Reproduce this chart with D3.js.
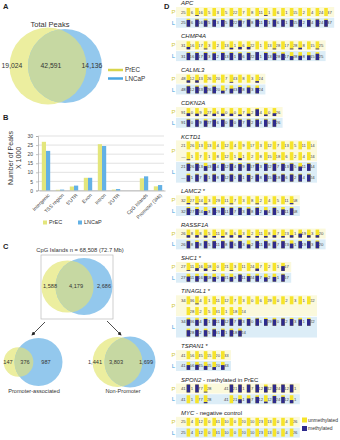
<!DOCTYPE html>
<html>
<head>
<meta charset="utf-8">
<script src="https://cdn.jsdelivr.net/npm/d3@7"></script>
<style>
  body { margin: 0; background: #fff; }
  svg { display: block; font-family: "Liberation Sans", Arial, sans-serif; }
</style>
</head>
<body>
<div id="fig"></div>
<script>
// ---- A: total peaks (PrEC only, shared, LNCaP only)
const totalPeaks = [19024, 42591, 14136];
const lines = ["PrEC", "LNCaP"];

// ---- B: peaks per genomic region (x 1000)
const regions = ["Intergenic", "TSS region", "5'UTR", "Exon", "Intron", "3'UTR", "", "CpG Islands", "Promoter (3kb)"];
const precPeaks = [26.8, 0.4, 2.2, 7.0, 25.5, 0.5, 0, 6.7, 2.3];
const lncapPeaks = [21.8, 0.5, 2.7, 7.0, 24.5, 0.8, 0, 7.8, 3.0];
const peakTicks = [0, 5, 10, 15, 20, 25, 30];

// ---- C: CpG islands
const cpgAll = [1588, 4179, 2686];
const cpgPromoter = [147, 376, 987];
const cpgNonPromoter = [1441, 3803, 1699];

// ---- D: bisulfite sequencing, site spacing + methylated fraction per CpG
const apcSites = [25, 6, 16, 5, 3, 5, 22, 7, 8, 11, 1, 6, 1, 15, 2, 4, 24, 37];
const apcP = [0, 0.1, 0, 0, 0, 0, 0, 0, 0, 0.1, 0, 0, 0, 0, 0, 0, 0];
const apcL = [0.85, 0.9, 0.8, 0.9, 0.85, 0.9, 0.8, 0.9, 0.9, 0.85, 0.9, 0.9, 0.85, 0.9, 0.85, 0.9, 0.85];

const chmpSites = [31, 16, 17, 3, 2, 13, 1, 6, 22, 1, 13, 28, 17, 28, 8, 15, 25];
const chmpP = [0.3, 0, 0.1, 0, 0, 0.2, 0.3, 0.3, 0, 0, 0.1, 0, 0.1, 0.2, 0, 0.1];
const chmpL = [0.9, 0.9, 0.9, 0.85, 0.9, 0.9, 0.85, 0.9, 1, 0.9, 0.85, 0.8, 0.5, 0.55, 0.6, 0.8];

const calmlSites = [48, 12, 43, 26, 20, 7, 43, 8, 3, 24];
const calmlP = [0.3, 0.3, 0, 0, 0, 0.1, 0, 0, 0.2];
const calmlL = [0.9, 0.85, 0.85, 0.85, 0.35, 0.6, 0.8, 0.75, 0.7];

const cdknSites = [91, 0, 9, 27, 6, 0, 0, 7, 2, 4, 0, 26];
const cdknP = [0.35, 0.3, 0.2, 0.3, 0.3, 0.3, 0.2, 0.3, 0.85, 0.2, 0.35];
const cdknL = [0.9, 0.9, 0.8, 0.9, 0.9, 0.9, 0.9, 0.9, 0.9, 0.9, 0.9];

const kctdSites1 = [21, 26, 13, 13, 4, 12, 4, 9, 17, 3, 12, 7, 13, 5, 11, 14];
const kctdP1 = [0, 0, 0, 0, 0, 0, 0, 0, 0, 0, 0, 0, 0, 0, 0];
const kctdL1 = [0.9, 0.9, 0.6, 0.9, 0.9, 0.9, 0.85, 0.9, 0.9, 0.9, 0.9, 0.9, 0.9, 0.55, 0.9];
const kctdSites2 = ["—", 1, 7, 1, 8, 12, 1, 1, 2, 8, 15, 18, 6, 2, 4, 24];
const kctdP2 = [0.1, 0, 0, 0, 0, 0, 0.25, 0, 0, 0, 0, 0, 0, 0, 0];
const kctdL2 = [0.8, 0.9, 0.9, 0.9, 0.9, 0.9, 0.9, 0.85, 0.9, 0.9, 0.9, 0.9, 0.9, 0.9, 0.9];

const lamcSites = [32, 27, 24, 3, 29, 11, 7, 3, 8, 2, 4, 5, 11, 58];
const lamcP = [0.15, 0.1, 0.1, 0, 0, 0.1, 0, 0, 0.1, 0, 0, 0, 0.15];
const lamcL = [0.85, 0.75, 0.5, 0.9, 0.9, 0.9, 0.9, 0.8, 0.9, 0.6, 0.9, 0.7, 0.85];

const rassfSites = [26, 8, 8, 5, 11, 8, 6, 3, 2, 11, 8, 7, 23, 1, 19, 3, 20];
const rassfP = [0.3, 0.3, 0.25, 0.2, 0.2, 0.3, 0.3, 0.2, 0.2, 0.2, 0.3, 0.2, 0.3, 0.5, 0.3, 0.3];
const rassfL = [0.9, 0.8, 0.9, 0.9, 0.9, 0.85, 0.9, 0.5, 0.9, 0.9, 0.85, 0.9, 0.6, 0.9, 0.9, 0.85];

const shcSites = [27, 11, 16, 18, 0, 21, 3, 11, 24, 7, 2, 1, 67];
const shcP = [0.1, 0.35, 0.3, 0.1, 0, 0.1, 0, 0, 0.3, 0, 0, 0.6];
const shcL = [0.65, 0.7, 0.7, 0.6, 0.65, 0.6, 0.9, 0.7, 0.75, 0.55, 0.6, 0.9];

const tinaSites1 = [34, 36, 4, 1, 11, 12, 7, 3, 0, 6, 29, 0, 2, 3, 1, 22];
const tinaP1 = [0, 0.1, 0, 0, 0, 0, 0, 0, 0, 0, 0, 0, 0, 0, 0];
const tinaL1 = [0.8, 0.75, 0.85, 0.8, 0.8, 0.9, 0.8, 0.85, 0.9, 0.85, 0.8, 0.9, 0.85, 0.8, 0.85];
const tinaSites2 = ["", 28, 2, 5, 31, 1, 18, 24];
const tinaP2 = [0, 0, 0, 0, 0, 0, 0];
const tinaL2 = [0.8, 0.85, 0.8, 0.9, 0.85, 0.8, 0.75];

const tspanSites = [41, 56, 45, 15, 20, 33];
const tspanP = [0, 0, 0, 0, 0];
const tspanL = [0.6, 0.65, 0.5, 0.35, 0.6];

const sponSites = [41, 1, 77, 28, "", 41, 21, 1, 7, 12, 12, 24, 12, 1];
const sponP = [1, 1, 0.1, null, null, 1, 1, 1, 1, 0.75, 1, 1, 1];
const sponL = [0, 0, 0.15, null, null, 0, 0.5, 0.6, 0.8, 0.2, 0.9, 0.8, 0.4];

const mycSites = [25, 4, 12, 0, 41, 10, 0, 20, 10, 23, 13, 0, 4, 26];
const mycP = [0, 0, 0, 0, 0, 0, 0, 0, 0, 0, 0, 0, 0];
const mycL = [0, 0, 0, 0, 0, 0, 0, 0, 0, 0, 0, 0, 0];

const genes = [
  { name: "APC", note: "", rows: [{ sites: apcSites, P: apcP, L: apcL }] },
  { name: "CHMP4A", note: "", rows: [{ sites: chmpSites, P: chmpP, L: chmpL }] },
  { name: "CALML3", note: "", rows: [{ sites: calmlSites, P: calmlP, L: calmlL }] },
  { name: "CDKN2A", note: "", rows: [{ sites: cdknSites, P: cdknP, L: cdknL }] },
  { name: "KCTD1", note: "", rows: [{ sites: kctdSites1, P: kctdP1, L: kctdL1 }, { sites: kctdSites2, P: kctdP2, L: kctdL2 }] },
  { name: "LAMC2", note: " *", rows: [{ sites: lamcSites, P: lamcP, L: lamcL }] },
  { name: "RASSF1A", note: "", rows: [{ sites: rassfSites, P: rassfP, L: rassfL }] },
  { name: "SHC1", note: " *", rows: [{ sites: shcSites, P: shcP, L: shcL }] },
  { name: "TINAGL1", note: " *", rows: [{ sites: tinaSites1, P: tinaP1, L: tinaL1 }, { sites: tinaSites2, P: tinaP2, L: tinaL2 }] },
  { name: "TSPAN1", note: " *", rows: [{ sites: tspanSites, P: tspanP, L: tspanL }] },
  { name: "SPON2", note: " - methylated in PrEC", rows: [{ sites: sponSites, P: sponP, L: sponL }] },
  { name: "MYC", note: " - negative control", rows: [{ sites: mycSites, P: mycP, L: mycL }] }
];
const methLegend = ["unmethylated", "methylated"];

// colours
const YEL = "#ecee9f", BLU = "#93c8ed", MIX = "#c6d8a2";
const BAR_Y = "#e3e67c", BAR_B = "#63b1e5";
const UNM = "#f6e42a", MET = "#2e2a8c";

const svg = d3.select("#fig").append("svg").attr("width", 340).attr("height", 440);

function panelLabel(t, x, y) {
  svg.append("text").attr("x", x).attr("y", y).attr("font-size", 7.5)
    .attr("font-weight", "bold").attr("fill", "#222").text(t);
}
panelLabel("A", 3, 9);
panelLabel("B", 3, 120);
panelLabel("C", 3, 249);
panelLabel("D", 164, 9);

// ---- venn helper
let clipN = 0;
function venn(counts, yc, bc, cy, rMax, labelX, fs) {
  const yTot = counts[0] + counts[1], bTot = counts[1] + counts[2];
  const r = d3.scaleSqrt().domain([0, Math.max(yTot, bTot)]).range([0, rMax]);
  const id = "vclip" + (clipN++);
  svg.append("clipPath").attr("id", id)
    .append("circle").attr("cx", bc).attr("cy", cy).attr("r", r(bTot));
  svg.append("circle").attr("cx", yc).attr("cy", cy).attr("r", r(yTot)).attr("fill", YEL);
  svg.append("circle").attr("cx", bc).attr("cy", cy).attr("r", r(bTot)).attr("fill", BLU);
  svg.append("circle").attr("cx", yc).attr("cy", cy).attr("r", r(yTot))
    .attr("fill", MIX).attr("clip-path", `url(#${id})`);
  counts.forEach((c, i) => {
    svg.append("text").attr("x", labelX[i]).attr("y", cy).attr("dy", "0.35em")
      .attr("text-anchor", "middle").attr("font-size", fs).attr("fill", "#333")
      .text(d3.format(",")(c));
  });
}

// ---- A
svg.append("text").attr("x", 50).attr("y", 27).attr("text-anchor", "middle")
  .attr("font-size", 7.5).attr("fill", "#333").text("Total Peaks");
venn(totalPeaks, 48, 65, 66, 38.5, [12, 51, 92], 6.8);
lines.forEach((l, i) => {
  const yy = 70 + i * 8.5;
  svg.append("line").attr("x1", 108).attr("x2", 123).attr("y1", yy).attr("y2", yy)
    .attr("stroke", i === 0 ? "#d8d54c" : "#4aa6e2").attr("stroke-width", 2.5);
  svg.append("text").attr("x", 125).attr("y", yy).attr("dy", "0.35em")
    .attr("font-size", 6.3).attr("fill", "#333").text(l);
});

// ---- B
const bx = d3.scaleBand().domain(regions).range([39, 165]).paddingInner(0.4).paddingOuter(0.2);
const by = d3.scaleLinear().domain([0, 30]).range([190.5, 136]);
const sub = d3.scaleBand().domain(lines).range([0, bx.bandwidth()]);

svg.append("g").selectAll("line").data(peakTicks).join("line")
  .attr("x1", 38).attr("x2", 164).attr("y1", d => by(d)).attr("y2", d => by(d))
  .attr("stroke", "#cfcfcf").attr("stroke-width", 0.6);

const yAx = svg.append("g").attr("transform", "translate(38,0)")
  .call(d3.axisLeft(by).tickValues(peakTicks).tickSize(2));
yAx.selectAll("text").attr("font-size", 5).attr("fill", "#444");
yAx.selectAll("line,path").attr("stroke", "#999").attr("stroke-width", 0.6);

const grp = svg.append("g").selectAll("g").data(regions).join("g")
  .attr("transform", d => `translate(${bx(d)},0)`);
grp.append("rect").attr("x", sub("PrEC")).attr("width", sub.bandwidth())
  .attr("y", (d, i) => by(precPeaks[i])).attr("height", (d, i) => by(0) - by(precPeaks[i]))
  .attr("fill", BAR_Y);
grp.append("rect").attr("x", sub("LNCaP")).attr("width", sub.bandwidth())
  .attr("y", (d, i) => by(lncapPeaks[i])).attr("height", (d, i) => by(0) - by(lncapPeaks[i]))
  .attr("fill", BAR_B);

const xAx = svg.append("g").attr("transform", "translate(0,190.5)")
  .call(d3.axisBottom(bx).tickSize(0).tickSizeOuter(0));
xAx.select("path").attr("stroke", "#999").attr("stroke-width", 0.6);
xAx.selectAll("text").attr("font-size", 5).attr("fill", "#444")
  .attr("text-anchor", "end").attr("dy", 0)
  .attr("transform", "translate(2,3) rotate(-45)");

svg.append("text").attr("transform", "translate(13,158) rotate(-90)")
  .attr("text-anchor", "middle").attr("font-size", 7).attr("fill", "#333").text("Number of Peaks");
svg.append("text").attr("transform", "translate(21,158) rotate(-90)")
  .attr("text-anchor", "middle").attr("font-size", 7).attr("fill", "#333").text("X 1000");

lines.forEach((l, i) => {
  const lx = i === 0 ? 43 : 78;
  svg.append("rect").attr("x", lx).attr("y", 220.5).attr("width", 4).attr("height", 4)
    .attr("fill", i === 0 ? BAR_Y : BAR_B);
  svg.append("text").attr("x", lx + 6).attr("y", 222.5).attr("dy", "0.35em")
    .attr("font-size", 5.5).attr("fill", "#333").text(l);
});

// ---- C
svg.append("text").attr("x", 80).attr("y", 252).attr("text-anchor", "middle")
  .attr("font-size", 5.8).attr("fill", "#333").text("CpG Islands n = 68,508 (72.7 Mb)");
svg.append("rect").attr("x", 41).attr("y", 255).attr("width", 72).attr("height", 64)
  .attr("fill", "none").attr("stroke", "#bbb").attr("stroke-width", 0.7);
venn(cpgAll, 67.5, 84, 286.5, 28.5, [50, 76, 104], 5.6);

svg.append("defs").append("marker").attr("id", "arr")
  .attr("viewBox", "0 0 10 10").attr("refX", 8).attr("refY", 5)
  .attr("markerWidth", 5).attr("markerHeight", 5).attr("orient", "auto")
  .append("path").attr("d", "M0,0L10,5L0,10z").attr("fill", "#222");
[[45, 322, 32, 335], [107, 321, 121, 335]].forEach(a => {
  svg.append("line").attr("x1", a[0]).attr("y1", a[1]).attr("x2", a[2]).attr("y2", a[3])
    .attr("stroke", "#222").attr("stroke-width", 0.8).attr("marker-end", "url(#arr)");
});

venn(cpgPromoter, 18.5, 38.5, 362, 24, [8, 25, 46], 5.6);
venn(cpgNonPromoter, 117.5, 130, 362, 25.5, [95, 116, 146], 5.6);
svg.append("text").attr("x", 34).attr("y", 393).attr("text-anchor", "middle")
  .attr("font-size", 5.6).attr("fill", "#333").text("Promoter-associated");
svg.append("text").attr("x", 123).attr("y", 393).attr("text-anchor", "middle")
  .attr("font-size", 5.6).attr("fill", "#333").text("Non-Promoter");

// ---- D
const xs = d3.scaleLinear().domain([0, 18]).range([180, 334.8]);
const mh = d3.scaleLinear().domain([0, 1]).range([0, 8]);
const pitch = 10.75;
const D = svg.append("g");
let yName = 3;
genes.forEach(g => {
  const t = D.append("text").attr("x", 181).attr("y", yName).attr("dy", "0.35em")
    .attr("font-size", 6).attr("fill", "#222");
  t.append("tspan").attr("font-style", "italic").text(g.name);
  if (g.note) t.append("tspan").text(g.note);

  let top = yName + 4;
  const n = g.rows.length;
  const maxLen = d3.max(g.rows, r => r.sites.length);
  ["P", "L"].forEach(s => {
    const h = n * pitch - 0.75;
    D.append("rect").attr("x", 176).attr("y", top).attr("width", xs(maxLen - 1) + 8 - 176)
      .attr("height", h).attr("fill", s === "P" ? "#fbf9dc" : "#dcedf7");
    D.append("text").attr("x", 173.5).attr("y", top + h / 2).attr("dy", "0.35em")
      .attr("text-anchor", "middle").attr("font-size", 6)
      .attr("fill", s === "P" ? "#cfc83c" : "#44a3dc").text(s);
    g.rows.forEach((row, k) => {
      const ry = top + k * pitch;
      row.sites.forEach((v, i) => {
        D.append("text").attr("x", xs(i) + 3.3).attr("y", ry + 5).attr("dy", "0.35em")
          .attr("text-anchor", "middle").attr("font-size", 4.3).attr("fill", "#444").text(v);
      });
      row[s].forEach((v, i) => {
        if (v === null) return;
        D.append("rect").attr("x", xs(i) + 6.6).attr("y", ry + 1).attr("width", 3.6).attr("height", 8)
          .attr("fill", UNM);
        D.append("rect").attr("x", xs(i) + 6.6).attr("y", ry + 9 - mh(v)).attr("width", 3.6)
          .attr("height", mh(v)).attr("fill", MET);
      });
    });
    top += n * pitch;
  });
  yName = top - pitch + 5 + 13.6;
});

methLegend.forEach((l, i) => {
  const yy = 420 + i * 8.5;
  svg.append("rect").attr("x", 302).attr("y", yy - 2.5).attr("width", 5).attr("height", 5)
    .attr("fill", i === 0 ? UNM : MET);
  svg.append("text").attr("x", 308).attr("y", yy).attr("dy", "0.35em")
    .attr("font-size", 5).attr("fill", "#333").text(l);
});
</script>
</body>
</html>
